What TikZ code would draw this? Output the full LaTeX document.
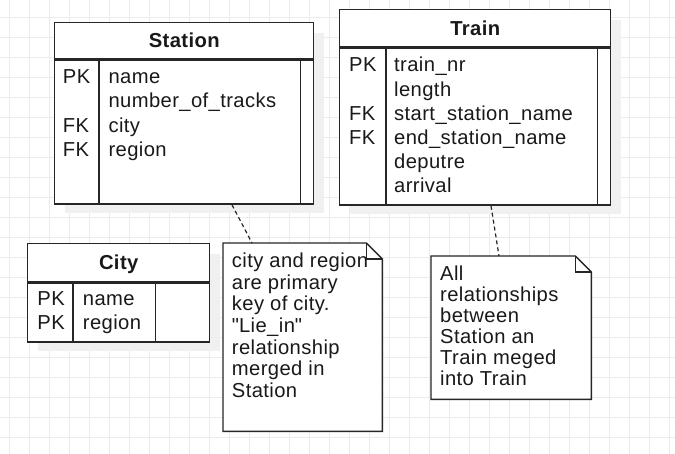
\documentclass[tikz,border=0pt]{standalone}
\usepackage{fontspec}
\setmainfont[LetterSpace=2]{Liberation Sans}
\usepackage{tikz}
\usetikzlibrary{positioning}
\tikzset{
  every node/.style={font=\fontsize{20.2}{22}\selectfont, text=black!90},
  box/.style={draw=black!85, line width=1.4pt, fill=white, inner sep=0pt, anchor=north west},
  head/.style={box, font=\fontsize{20.2}{22}\selectfont\bfseries, text height=14.4pt, text depth=0pt},
  rule/.style={draw=black!85, line width=1.4pt},
  cell/.style={inner sep=0pt, anchor=base west},
  shade/.style={fill=black!6},
  gridline/.style={draw=black!8, line width=0.8pt},
  notebox/.style={draw=black!85, line width=1.4pt, fill=white},
  link/.style={draw=black!85, line width=1.2pt, dash pattern=on 4pt off 3pt},
}

\begin{document}
\begin{tikzpicture}[x=1pt, y=-1pt]
\useasboundingbox (0,0) rectangle (675,454);
\fill[white] (0,0) rectangle (675,454);
\draw[gridline] \foreach \x in {9.5,29.5,...,669.5} {(\x,0) -- (\x,454)};
\draw[gridline] \foreach \y in {17,37,...,437} {(0,\y) -- (675,\y)};

\fill[shade] (65,33) rectangle (324,213);
\fill[shade] (350,20) rectangle (621,214);
\fill[shade] (38,254) rectangle (220,351);

\node[head, minimum width=259pt, minimum height=36pt] (station) at (54,22) {Station};
\node[box, below=0pt of station, minimum width=259pt, minimum height=144pt] (station body) {};
\draw[rule] ([xshift=45pt]station body.north west) -- ([xshift=45pt]station body.south west);
\draw[rule] ([xshift=-14pt]station body.north east) -- ([xshift=-14pt]station body.south east);
\foreach \k/\f [count=\i from 0] in {PK/name, /number\_of\_tracks, FK/city, FK/region}
{
    \node[cell] (station k\i) at (62.7,83.5+24.3*\i) {\k};
    \node[cell] (station f\i) at (108.3,83.5+24.3*\i) {\f};
}

\node[head, minimum width=271pt, minimum height=37pt] (train) at (339,9) {Train};
\node[box, below=0pt of train, minimum width=271pt, minimum height=157pt] (train body) {};
\draw[rule] ([xshift=47pt]train body.north west) -- ([xshift=47pt]train body.south west);
\draw[rule] ([xshift=-14pt]train body.north east) -- ([xshift=-14pt]train body.south east);
\foreach \k/\f [count=\i from 0] in {PK/train\_nr, /length, FK/start\_station\_name, FK/end\_station\_name, /deputre, /arrival}
{
    \node[cell] (train k\i) at (349,72+24.2*\i) {\k};
    \node[cell] (train f\i) at (394,72+24.2*\i) {\f};
}

\node[head, minimum width=182pt, minimum height=38pt] (city) at (27,243) {City};
\node[box, below=0pt of city, minimum width=182pt, minimum height=59pt] (city body) {};
\draw[rule] ([xshift=46pt]city body.north west) -- ([xshift=46pt]city body.south west);
\draw[rule] ([xshift=-55pt]city body.north east) -- ([xshift=-55pt]city body.south east);
\foreach \k/\f [count=\i from 0] in {PK/name, PK/region}
{
    \node[cell] (city k\i) at (37.3,306+24*\i) {\k};
    \node[cell] (city f\i) at (82.7,306+24*\i) {\f};
}

\node[inner sep=0pt, anchor=north west, minimum width=159pt, minimum height=188pt] (notecity) at (223,243) {};
\draw[notebox] (notecity.north west) -- ([xshift=-16pt]notecity.north east) -- ([yshift=-16pt]notecity.north east)
    -- (notecity.south east) -- (notecity.south west) -- cycle;
\draw[rule] ([xshift=-16pt]notecity.north east) |- ([yshift=-16pt]notecity.north east);
\foreach \t [count=\i from 0] in {city and region, are primary, key of city., \textquotedbl Lie\_in\textquotedbl, relationship, merged in, Station}
    \node[cell] (notecity l\i) at (231.7,267.5+21.7*\i) {\t};

\node[inner sep=0pt, anchor=north west, minimum width=160pt, minimum height=143pt] (notetrain) at (431,256) {};
\draw[notebox] (notetrain.north west) -- ([xshift=-16pt]notetrain.north east) -- ([yshift=-16pt]notetrain.north east)
    -- (notetrain.south east) -- (notetrain.south west) -- cycle;
\draw[rule] ([xshift=-16pt]notetrain.north east) |- ([yshift=-16pt]notetrain.north east);
\foreach \t [count=\i from 0] in {All, relationships, between, Station an, Train meged, into Train}
    \node[cell] (notetrain l\i) at (440,281+20.9*\i) {\t};

\draw[link] ([xshift=178pt]station body.south west) -- ([xshift=29pt]notecity.north west);
\draw[link] ([xshift=152pt]train body.south west) -- ([xshift=68pt]notetrain.north west);
\end{tikzpicture}
\end{document}
